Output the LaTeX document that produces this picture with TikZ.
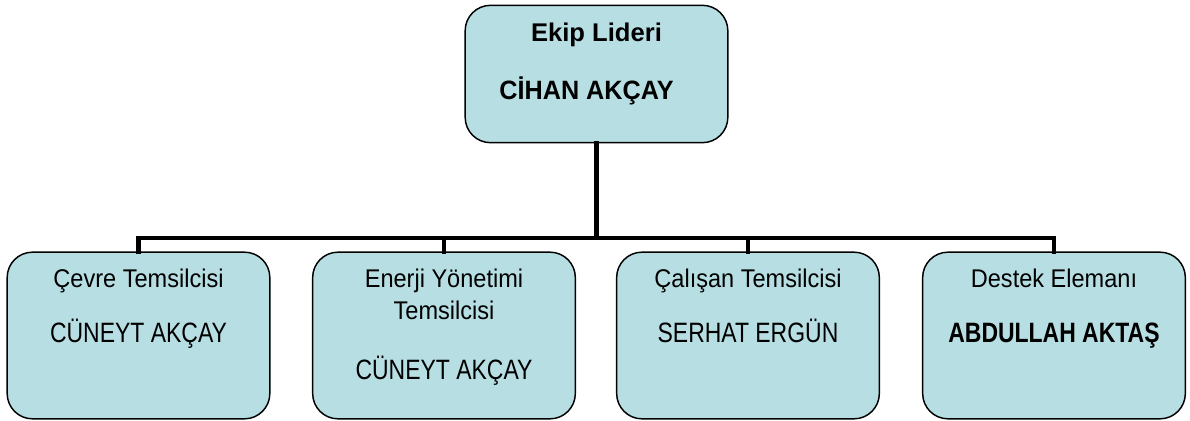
\documentclass[tikz,border=0pt]{standalone}
\usepackage{fontspec}
\setmainfont{Liberation Sans}
\newfontfamily\baslik[FakeStretch=0.92]{Liberation Sans}
\newfontfamily\isim[FakeStretch=0.82]{Liberation Sans}
\newfontfamily\lider[FakeStretch=0.95]{Liberation Sans}
\usetikzlibrary{positioning}

\definecolor{kutu}{RGB}{183,223,227}

\begin{document}
\begin{tikzpicture}[x=0.75pt, y=-0.75pt,
    box/.style={draw=black, line width=1.1pt, fill=kutu, rounded corners=19pt,
                minimum width=197pt, inner sep=0pt},
    altbox/.style={box, minimum height=125pt},
    ustbox/.style={box, minimum height=103pt},
    txt/.style={anchor=base, inner sep=0pt, font=\baslik\fontsize{19.2}{23}\selectfont},
    ad/.style={txt, font=\isim\fontsize{21}{25}\selectfont},
    bad/.style={txt, font=\isim\fontsize{21}{25}\selectfont\bfseries},
    conn/.style={line width=3.6pt, line cap=rect}]

    % Page
    \useasboundingbox (0,0) rectangle (1190,421);

    % Bus height
    \coordinate (bus) at (596.5,238);

    % Boxes
    \node[ustbox] (lider) at (596.5,74) {};
    \node[altbox] (cevre) at (138.5,335.5) {};
    \node[altbox] (enerji) at (444,335.5) {};
    \node[altbox] (calisan) at (748,335.5) {};
    \node[altbox] (destek) at (1054,335.5) {};

    % Team leader
    \node[txt, font=\fontsize{19.2}{23}\selectfont\bfseries] (lider-1)
        at ([yshift=-27.75pt]lider.north) {Ekip Lideri};
    \node[txt, font=\lider\fontsize{19.9}{24}\selectfont\bfseries] (lider-2)
        at ([xshift=-7.5pt, yshift=-71.25pt]lider.north) {CİHAN AKÇAY};

    % Members
    \node[txt] (cevre-1) at ([yshift=-27pt]cevre.north) {Çevre Temsilcisi};
    \node[ad] (cevre-2) at ([yshift=-68.25pt]cevre.north) {CÜNEYT AKÇAY};

    \node[txt] (enerji-1) at ([yshift=-27pt]enerji.north) {Enerji Yönetimi};
    \node[txt] (enerji-2) at ([yshift=-51pt]enerji.north) {Temsilcisi};
    \node[ad] (enerji-3) at ([yshift=-96pt]enerji.north) {CÜNEYT AKÇAY};

    \node[txt] (calisan-1) at ([yshift=-27pt]calisan.north) {Çalışan Temsilcisi};
    \node[ad] (calisan-2) at ([yshift=-68.25pt]calisan.north) {SERHAT ERGÜN};

    \node[txt] (destek-1) at ([yshift=-27pt]destek.north) {Destek Elemanı};
    \node[bad] (destek-2) at ([yshift=-68.25pt]destek.north) {ABDULLAH AKTAŞ};

    % Tree lines
    \draw[conn] (lider.south) -- (bus);
    \draw[conn] (cevre.north) -- (cevre.north |- bus) -- (destek.north |- bus) -- (destek.north);
    \foreach \k in {enerji, calisan} {
        \draw[conn] (\k.north) -- (\k.north |- bus);
    }

\end{tikzpicture}
\end{document}
